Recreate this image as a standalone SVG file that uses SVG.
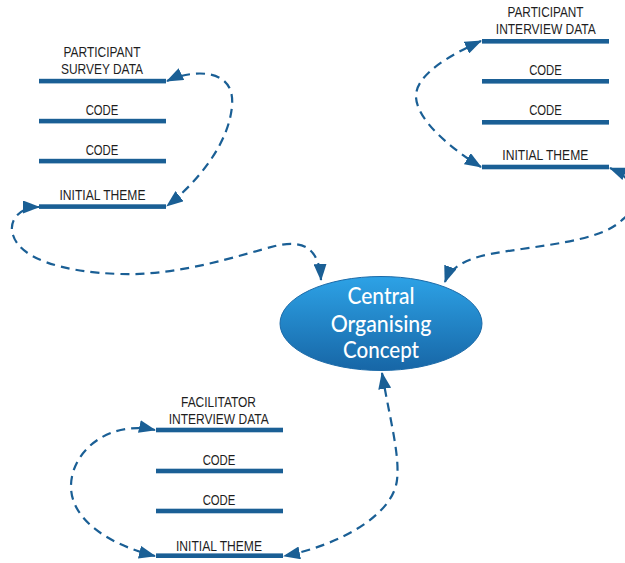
<svg xmlns="http://www.w3.org/2000/svg" width="625" height="563" viewBox="0 0 625 563">
  <style>
    .bar { fill: #1a5f95; }
    .lbl { font-family: "Liberation Sans Narrow", "Liberation Sans", Arial, sans-serif; font-size: 14px; fill: #1e1e1e; text-anchor: middle; }
    .core { font-family: Lato, "Open Sans", "Liberation Sans", sans-serif; font-size: 23px; font-weight: 500; fill: #ffffff; text-anchor: middle; }
    .link { fill: none; stroke: #1a5f95; stroke-width: 2.2; stroke-dasharray: 9 6; }
  </style>
  <defs>
    <linearGradient id="coreFill" x1="0" y1="0" x2="0" y2="1">
      <stop offset="0" stop-color="#2da2e6"/>
      <stop offset="1" stop-color="#1766a6"/>
    </linearGradient>
    <marker id="head" markerUnits="userSpaceOnUse" markerWidth="17" markerHeight="13" viewBox="0 0 17 13" refX="16" refY="6.5" orient="auto-start-reverse">
      <path d="M0,0 L17,6.5 L0,13 z" fill="#1a5f95"/>
    </marker>
  </defs>

  <!-- Connectors -->
  <g id="connectors">
    <path class="link" d="M167,81 C190,70 236,66 232,106 C229,142 200,180 167,206" marker-start="url(#head)" marker-end="url(#head)"/>
    <path class="link" d="M39,207 C20,207 8,220 13,235 C20,258 60,272 120,274 C180,276 240,255 275,246 C300,240 319,245 321,280" marker-start="url(#head)" marker-end="url(#head)"/>
    <path class="link" d="M481,41 C450,55 415,75 416,97 C417,120 450,148 481,167" marker-start="url(#head)" marker-end="url(#head)"/>
    <path class="link" d="M610,168 C640,180 640,207 622,220 C600,242 540,245 490,254 C465,259 450,268 445,282" marker-start="url(#head)" marker-end="url(#head)"/>
    <path class="link" d="M382,373 C390,420 400,455 397,480 C393,515 340,545 284,556" marker-start="url(#head)" marker-end="url(#head)"/>
    <path class="link" d="M155,430 C110,420 72,450 71,485 C70,520 110,545 155,556" marker-start="url(#head)" marker-end="url(#head)"/>
  </g>

  <!-- Participant survey strand -->
  <g id="survey">
    <text class="lbl" x="102" y="57.3" textLength="77" lengthAdjust="spacingAndGlyphs">PARTICIPANT</text>
    <text class="lbl" x="102" y="74.3" textLength="82" lengthAdjust="spacingAndGlyphs">SURVEY DATA</text>
    <rect class="bar" x="39" y="78.8" width="127" height="4.6"/>
    <text class="lbl" x="102" y="115.3" textLength="32.7" lengthAdjust="spacingAndGlyphs">CODE</text>
    <rect class="bar" x="39" y="118.8" width="127" height="4.6"/>
    <text class="lbl" x="102" y="155.3" textLength="32.7" lengthAdjust="spacingAndGlyphs">CODE</text>
    <rect class="bar" x="39" y="158.8" width="127" height="4.6"/>
    <text class="lbl" x="102.5" y="200.3" textLength="86" lengthAdjust="spacingAndGlyphs">INITIAL THEME</text>
    <rect class="bar" x="39" y="204.3" width="127" height="4.6"/>
  </g>

  <!-- Participant interview strand -->
  <g id="interview">
    <text class="lbl" x="545.5" y="17.3" textLength="76" lengthAdjust="spacingAndGlyphs">PARTICIPANT</text>
    <text class="lbl" x="545.8" y="34.3" textLength="100" lengthAdjust="spacingAndGlyphs">INTERVIEW DATA</text>
    <rect class="bar" x="482" y="39" width="127" height="4.6"/>
    <text class="lbl" x="545.5" y="75.3" textLength="32.7" lengthAdjust="spacingAndGlyphs">CODE</text>
    <rect class="bar" x="482" y="79" width="127" height="4.6"/>
    <text class="lbl" x="545.5" y="115.3" textLength="32.7" lengthAdjust="spacingAndGlyphs">CODE</text>
    <rect class="bar" x="482" y="120" width="127" height="4.6"/>
    <text class="lbl" x="545.3" y="160.3" textLength="86" lengthAdjust="spacingAndGlyphs">INITIAL THEME</text>
    <rect class="bar" x="482" y="164.7" width="127" height="4.6"/>
  </g>

  <!-- Facilitator interview strand -->
  <g id="facilitator">
    <text class="lbl" x="218.5" y="407.3" textLength="75" lengthAdjust="spacingAndGlyphs">FACILITATOR</text>
    <text class="lbl" x="218.7" y="424" textLength="100" lengthAdjust="spacingAndGlyphs">INTERVIEW DATA</text>
    <rect class="bar" x="156" y="427.7" width="127" height="4.6"/>
    <text class="lbl" x="219" y="465.3" textLength="32.7" lengthAdjust="spacingAndGlyphs">CODE</text>
    <rect class="bar" x="156" y="468.7" width="127" height="4.6"/>
    <text class="lbl" x="219" y="505.3" textLength="32.7" lengthAdjust="spacingAndGlyphs">CODE</text>
    <rect class="bar" x="156" y="508.7" width="127" height="4.6"/>
    <text class="lbl" x="219" y="550.7" textLength="86" lengthAdjust="spacingAndGlyphs">INITIAL THEME</text>
    <rect class="bar" x="156" y="553.4" width="127" height="4.6"/>
  </g>

  <!-- Central organising concept -->
  <g id="concept">
    <ellipse cx="381" cy="323.5" rx="101" ry="47" fill="url(#coreFill)" stroke="#1b6aa8" stroke-width="1"/>
    <text class="core" x="381" y="304.3" textLength="67" lengthAdjust="spacingAndGlyphs">Central</text>
    <text class="core" x="381" y="331.5" textLength="100.7" lengthAdjust="spacingAndGlyphs">Organising</text>
    <text class="core" x="381" y="358" textLength="76" lengthAdjust="spacingAndGlyphs">Concept</text>
  </g>
</svg>
